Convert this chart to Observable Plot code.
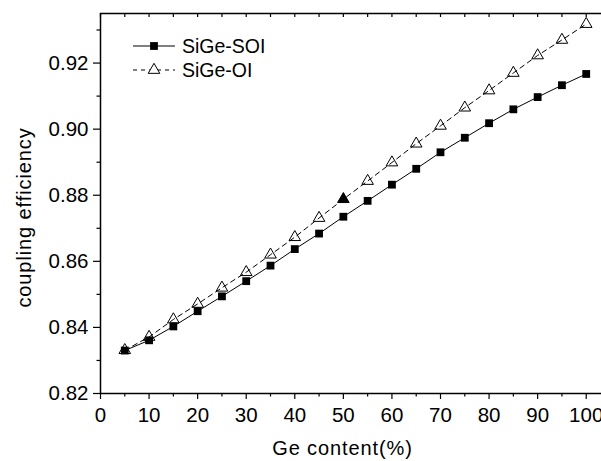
<!DOCTYPE html>
<html>
<head>
<meta charset="utf-8">
<script src="https://cdn.jsdelivr.net/npm/d3@7"></script>
<script src="https://cdn.jsdelivr.net/npm/@observablehq/plot@0.6"></script>
<style>
  html, body { margin: 0; padding: 0; background: #fff; }
  #wrap { position: relative; width: 601px; height: 461px; overflow: hidden; font-family: "Liberation Sans", Arial, sans-serif; }
  #wrap > svg.chart { max-width: none !important; width: 612px !important; height: 461px !important; }
  #legend { position: absolute; left: 133px; top: 34px; }
</style>
</head>
<body>
<div id="wrap"></div>
<script>
// Data
const geContent = [5, 10, 15, 20, 25, 30, 35, 40, 45, 50, 55, 60, 65, 70, 75, 80, 85, 90, 95, 100];
const sigeSOI = [0.8330, 0.8361, 0.8403, 0.8449, 0.8494, 0.8540, 0.8587, 0.8637, 0.8684, 0.8735,
                 0.8783, 0.8832, 0.8880, 0.8930, 0.8974, 0.9018, 0.9060, 0.9097, 0.9133, 0.9167];
const sigeOI  = [0.8331, 0.8371, 0.8424, 0.8471, 0.8520, 0.8567, 0.8620, 0.8673, 0.8731, 0.8788,
                 0.8843, 0.8899, 0.8956, 0.9010, 0.9065, 0.9117, 0.9170, 0.9223, 0.9270, 0.9318];
const seriesNames = ["SiGe-SOI", "SiGe-OI"];
const xTicks = [0, 10, 20, 30, 40, 50, 60, 70, 80, 90, 100];
const xMinorTicks = [5, 15, 25, 35, 45, 55, 65, 75, 85, 95];
const yTicks = [0.82, 0.84, 0.86, 0.88, 0.90, 0.92];
const yMinorTicks = [0.83, 0.85, 0.87, 0.89, 0.91, 0.93];
const xLabel = "Ge content(%)";
const yLabel = "coupling efficiency";

const soiRows = geContent.map((x, i) => ({x, y: sigeSOI[i]}));
const oiRows = geContent.map((x, i) => ({x, y: sigeOI[i]}));
const allXTicks = xTicks.concat(xMinorTicks);

const W = 612, H = 461, mT = 13, mB = 68;
const font = "Liberation Sans, Arial, sans-serif";

const chart = Plot.plot({
  width: W,
  height: H,
  marginLeft: 100,
  marginRight: 2,
  marginTop: mT,
  marginBottom: mB,
  className: "chart",
  style: {fontFamily: font, color: "#000", background: "#fff", overflow: "visible", maxWidth: "none"},
  x: {domain: [0, 105]},
  y: {domain: [0.82, 0.935]},
  marks: [
    Plot.frame({stroke: "#000", strokeWidth: 1.5}),
    // bottom axis
    Plot.axisX({ticks: xTicks, tickSize: 6, tickPadding: 8, fontSize: 20.5, label: null, tickFormat: d => String(d), strokeWidth: 1.2}),
    Plot.axisX({ticks: xMinorTicks, tickSize: 3.5, tickFormat: () => "", label: null, strokeWidth: 1.2}),
    // left axis
    Plot.axisY({ticks: yTicks, tickSize: 7, tickPadding: 5, fontSize: 20.5, label: null, tickFormat: d3.format(".2f"), strokeWidth: 1.2}),
    Plot.axisY({ticks: yMinorTicks, tickSize: 3.5, tickFormat: () => "", label: null, strokeWidth: 1.2}),
    // top inward ticks
    Plot.tickX(allXTicks, {x: d => d, insetBottom: H - mT - mB - 4, stroke: "#000", strokeWidth: 1.2}),
    // series
    Plot.line(soiRows, {x: "x", y: "y", stroke: "#000", strokeWidth: 1}),
    Plot.line(oiRows, {x: "x", y: "y", stroke: "#000", strokeWidth: 1, strokeDasharray: "5,4"}),
    Plot.dot(soiRows, {x: "x", y: "y", symbol: "square", r: 4.4, fill: "#000", stroke: "none"}),
    Plot.dot(oiRows, {x: "x", y: "y", symbol: "triangle", r: 4.3, fill: (d, i) => d.x === 50 ? "#000" : "none", stroke: "#000", strokeWidth: 1}),
    // axis titles
    Plot.text([xLabel], {text: d => d, frameAnchor: "bottom", textAnchor: "middle", dx: -13, dy: 55, lineAnchor: "middle", fontSize: 20, fill: "#000"}),
    Plot.text([yLabel], {text: d => d, frameAnchor: "left", textAnchor: "middle", rotate: -90, dx: -76, dy: 14, lineAnchor: "middle", fontSize: 20, fill: "#000"})
  ]
});
// a little letter spacing for the axis titles (wider face in the original)
d3.select(chart).selectAll("text").filter(function() { return this.textContent === xLabel || this.textContent === yLabel; })
  .style("letter-spacing", "0.9px");

const wrap = document.getElementById("wrap");
wrap.appendChild(chart);

// legend
const leg = d3.select(wrap).append("svg").attr("id", "legend").attr("width", 200).attr("height", 50)
  .style("font-family", font);
const items = [
  {name: seriesNames[0], dash: null, sym: d3.symbolSquare, size: Math.PI * 4.4 * 4.4, fill: "#000"},
  {name: seriesNames[1], dash: "4,4", sym: d3.symbolTriangle, size: Math.PI * 4.3 * 4.3, fill: "none"}
];
items.forEach((it, i) => {
  const y = 12 + i * 24;
  leg.append("line").attr("x1", 0).attr("x2", 42).attr("y1", y).attr("y2", y)
    .attr("stroke", "#000").attr("stroke-width", 1).attr("stroke-dasharray", it.dash);
  leg.append("path").attr("d", d3.symbol(it.sym, it.size)()).attr("transform", `translate(21,${y})`)
    .attr("fill", it.fill === "none" ? "#fff" : it.fill).attr("stroke", it.fill === "none" ? "#000" : "none");
  leg.append("text").attr("x", 49).attr("y", y).attr("dy", "0.35em").attr("font-size", 19.5).text(it.name);
});
</script>
</body>
</html>
